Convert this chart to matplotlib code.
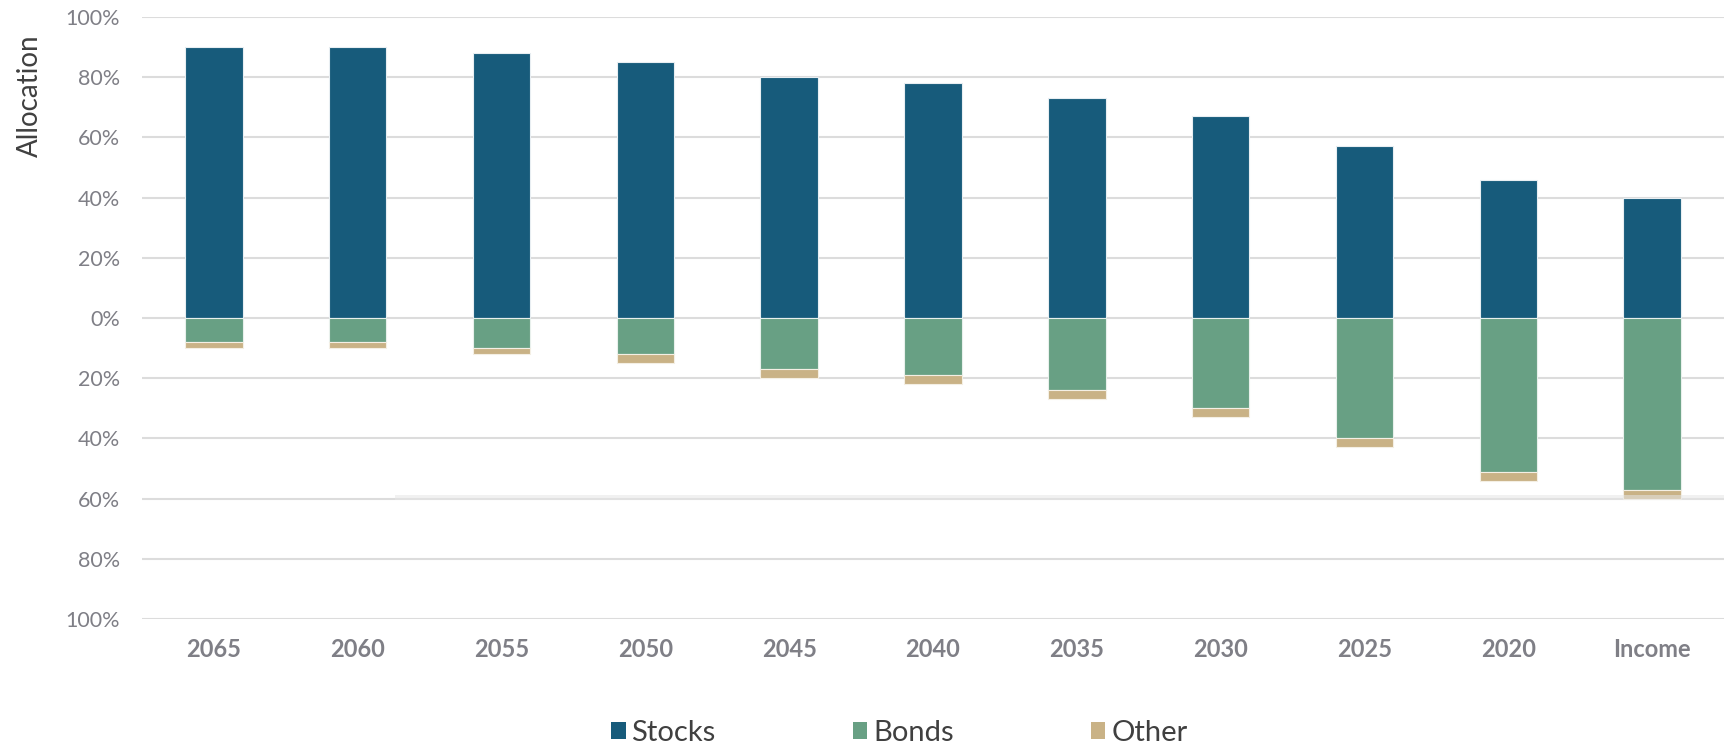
import matplotlib
matplotlib.use("Agg")
import matplotlib.pyplot as plt
from matplotlib.patches import Patch
import numpy as np

categories = ["2065", "2060", "2055", "2050", "2045", "2040", "2035", "2030", "2025", "2020", "Income"]
stocks = [90, 90, 88, 85, 80, 78, 73, 67, 57, 46, 40]
bonds = [8, 8, 10, 12, 17, 19, 24, 30, 40, 51, 57]
other = [2, 2, 2, 3, 3, 3, 3, 3, 3, 3, 3]
yticks = [-100, -80, -60, -40, -20, 0, 20, 40, 60, 80, 100]
series_names = ["Stocks", "Bonds", "Other"]

c_stocks = "#175B7B"
c_bonds = "#68A084"
c_other = "#C9B286"
tick_gray = "#7F7F86"

plt.rcParams['font.family'] = ['Lato', 'DejaVu Sans']

W, H = 1736, 746
fig = plt.figure(figsize=(W / 100, H / 100), dpi=100)
ax = fig.add_axes([142 / W, 1 - 619 / H, (1724 - 142) / W, (619 - 17) / H])

x = np.arange(len(categories))
s = np.array(stocks, dtype=float)
b = np.array(bonds, dtype=float)
o = np.array(other, dtype=float)
bw = 0.4
ax.bar(x, s, width=bw, color=c_stocks, edgecolor="#e8eef2", linewidth=0.8, zorder=2)
ax.bar(x, -b, width=bw, color=c_bonds, edgecolor="#e8f0ec", linewidth=0.8, zorder=2)
ax.bar(x, -o, bottom=-b, width=bw, color=c_other, edgecolor="#f4efe4", linewidth=0.8, zorder=2)

# faint band artifact near -60%
ax.axhspan(-60.5, -58.8, xmin=(395 - 142) / (1724 - 142), xmax=1.0,
           color="#e6e6e6", alpha=0.55, zorder=3, linewidth=0)

ax.set_xlim(-0.5, len(categories) - 0.5)
ax.set_ylim(-100, 100)
ax.set_yticks(yticks)
ax.set_yticklabels([f"{abs(v)}%" for v in yticks], color=tick_gray, fontsize=15.5)
ax.set_xticks(x)
ax.set_xticklabels(categories, color=tick_gray, fontsize=17, fontweight="bold")
ax.tick_params(axis="both", length=0)
ax.tick_params(axis="y", pad=16)
ax.tick_params(axis="x", pad=14)
ax.yaxis.grid(True, color="#DCDCDC", linewidth=1.5, zorder=0)
ax.set_axisbelow(True)
for sp in ax.spines.values():
    sp.set_visible(False)

fig.text(30 / W, 1 - 96 / H, "Allocation", rotation=90, ha="center", va="center",
         fontsize=20, color="#404040")

handles = [Patch(facecolor=c, edgecolor="none") for c in (c_stocks, c_bonds, c_other)]
leg = fig.legend(handles, series_names, loc="center", bbox_to_anchor=(0.518, 1 - 733 / H),
                 ncol=3, frameon=False, fontsize=21, handlelength=0.5, handleheight=0.5,
                 handletextpad=0.2, columnspacing=4.7, labelcolor="#404040")

fig.savefig("out.png", dpi=100)
